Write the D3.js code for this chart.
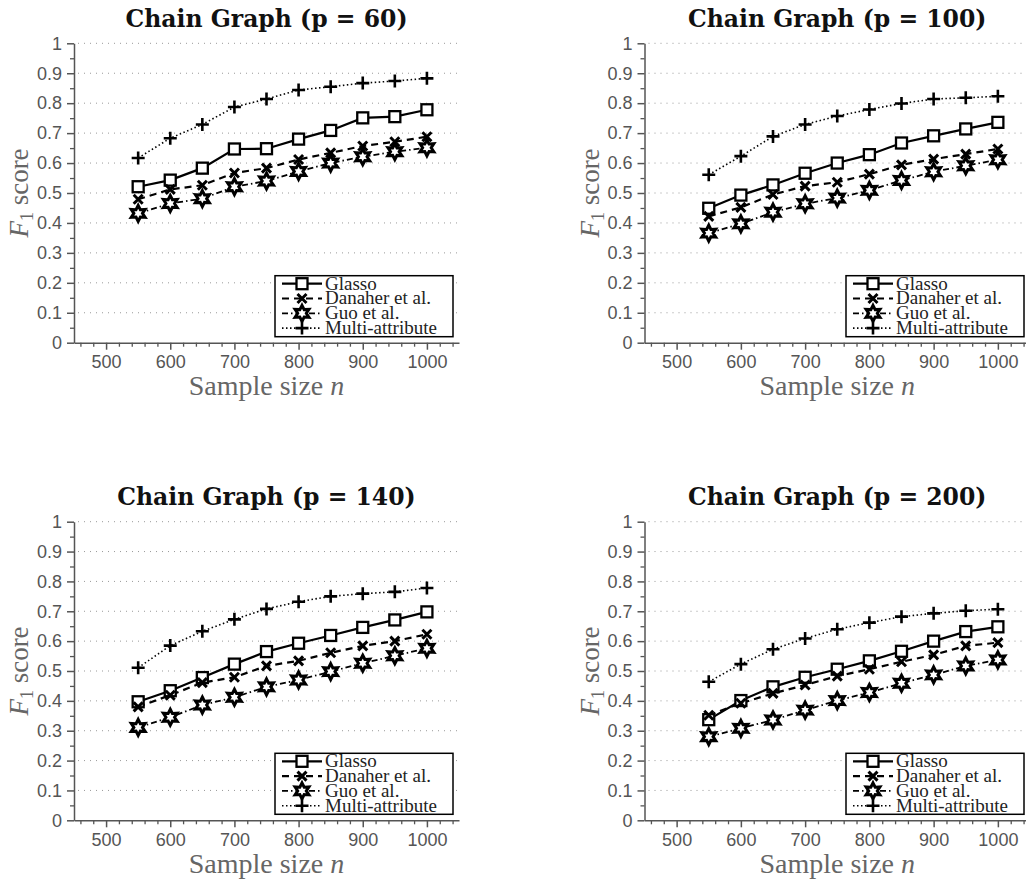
<!DOCTYPE html>
<html>
<head>
<meta charset="utf-8">
<script src="https://cdn.jsdelivr.net/npm/d3@7"></script>
<style>
  body { margin: 0; background: #fff; }
  svg { display: block; }
</style>
</head>
<body>
<div id="chart"></div>
<script>
// sample sizes on the x axis
const sampleSizes = [550, 600, 650, 700, 750, 800, 850, 900, 950, 1000];
const graphSizes = [60, 100, 140, 200];
const methodNames = ["Glasso", "Danaher et al.", "Guo et al.", "Multi-attribute"];
const yTickLabels = ["0", "0.1", "0.2", "0.3", "0.4", "0.5", "0.6", "0.7", "0.8", "0.9", "1"];
const xTickLabels = ["500", "600", "700", "800", "900", "1000"];

// F1 scores, p = 60
const glassoP60 = [0.521, 0.543, 0.583, 0.647, 0.648, 0.680, 0.709, 0.751, 0.755, 0.778];
const danaherP60 = [0.479, 0.512, 0.526, 0.567, 0.583, 0.612, 0.634, 0.657, 0.671, 0.688];
const guoP60 = [0.432, 0.465, 0.481, 0.521, 0.540, 0.572, 0.600, 0.621, 0.638, 0.651];
const multiP60 = [0.617, 0.683, 0.729, 0.787, 0.814, 0.844, 0.855, 0.867, 0.874, 0.883];

// p = 100
const glassoP100 = [0.449, 0.493, 0.527, 0.566, 0.600, 0.628, 0.667, 0.691, 0.714, 0.736];
const danaherP100 = [0.422, 0.452, 0.495, 0.523, 0.536, 0.563, 0.594, 0.613, 0.630, 0.647];
const guoP100 = [0.366, 0.397, 0.436, 0.464, 0.483, 0.509, 0.542, 0.571, 0.591, 0.611];
const multiP100 = [0.561, 0.623, 0.689, 0.729, 0.757, 0.779, 0.799, 0.814, 0.818, 0.823];

// p = 140
const glassoP140 = [0.397, 0.434, 0.478, 0.523, 0.565, 0.593, 0.619, 0.646, 0.671, 0.698];
const danaherP140 = [0.380, 0.419, 0.461, 0.479, 0.517, 0.534, 0.561, 0.584, 0.600, 0.623];
const guoP140 = [0.311, 0.345, 0.386, 0.412, 0.447, 0.470, 0.498, 0.526, 0.551, 0.576];
const multiP140 = [0.511, 0.585, 0.633, 0.673, 0.708, 0.732, 0.750, 0.759, 0.765, 0.778];

// p = 200
const glassoP200 = [0.337, 0.401, 0.447, 0.479, 0.506, 0.534, 0.566, 0.600, 0.632, 0.648];
const danaherP200 = [0.352, 0.392, 0.425, 0.453, 0.483, 0.506, 0.531, 0.554, 0.584, 0.595];
const guoP200 = [0.280, 0.308, 0.336, 0.369, 0.401, 0.428, 0.459, 0.487, 0.517, 0.537];
const multiP200 = [0.464, 0.523, 0.573, 0.609, 0.640, 0.662, 0.682, 0.693, 0.702, 0.707];

const seriesByPanel = [
  [glassoP60, danaherP60, guoP60, multiP60],
  [glassoP100, danaherP100, guoP100, multiP100],
  [glassoP140, danaherP140, guoP140, multiP140],
  [glassoP200, danaherP200, guoP200, multiP200]
];

// line styles + markers per method
const styles = [
  {dash: null, width: 2.2, marker: "square"},
  {dash: "7,5", width: 2.2, marker: "cross"},
  {dash: "6,3,1.5,3", width: 1.8, marker: "star"},
  {dash: "1.5,2.5", width: 1.6, marker: "plus"}
];

const W = 1026, H = 880;
const svg = d3.select("#chart").append("svg")
  .attr("width", W).attr("height", H);

// panel boxes: left, right, top, bottom of plot area
const boxes = [
  {x0: 74, x1: 459, y0: 43.3, y1: 342.7},
  {x0: 644.5, x1: 1030, y0: 43.3, y1: 342.7},
  {x0: 74, x1: 459, y0: 521.7, y1: 820.3},
  {x0: 644.5, x1: 1030, y0: 521.7, y1: 820.3}
];

const axisGrey = "#555";

function drawMarker(g, type, x, y) {
  if (type == "square") {
    g.append("rect").attr("x", x - 5.5).attr("y", y - 5.5).attr("width", 11).attr("height", 11)
      .attr("fill", "#fff").attr("stroke", "#000").attr("stroke-width", 2.3);
  } else if (type == "cross") {
    g.append("path").attr("d", `M${x-4.5},${y-4.5}L${x+4.5},${y+4.5}M${x-4.5},${y+4.5}L${x+4.5},${y-4.5}`)
      .attr("stroke", "#000").attr("stroke-width", 3).attr("fill", "none");
  } else if (type == "plus") {
    g.append("path").attr("d", `M${x-6.5},${y}L${x+6.5},${y}M${x},${y-6.5}L${x},${y+6.5}`)
      .attr("stroke", "#000").attr("stroke-width", 2.6).attr("fill", "none");
  } else if (type == "star") {
    let pts = [];
    for (let i = 0; i < 12; i++) {
      let r = i % 2 == 0 ? 8 : 4.3;
      let a = -Math.PI / 2 + i * Math.PI / 6;
      pts.push([x + r * Math.cos(a), y + r * Math.sin(a)]);
    }
    g.append("path").attr("d", "M" + pts.map(p => p.join(",")).join("L") + "Z")
      .attr("fill", "#fff").attr("stroke", "#000").attr("stroke-width", 3)
      .attr("stroke-linejoin", "miter");
  }
}

boxes.forEach((b, pi) => {
  const g = svg.append("g");

  const x = d3.scaleLinear().domain([450, 1050]).range([b.x0, b.x1]);
  const y = d3.scaleLinear().domain([0, 1]).range([b.y1, b.y0]);

  // dotted grid
  g.selectAll(".grid").data(d3.range(1, 11).map(d => d / 10)).enter()
    .append("line")
    .attr("x1", b.x0 + 4).attr("x2", b.x1)
    .attr("y1", d => y(d)).attr("y2", d => y(d))
    .attr("stroke", "#999").attr("stroke-width", 1)
    .attr("stroke-dasharray", "1,5");

  // y axis minor + major
  g.append("g").attr("transform", `translate(${b.x0},0)`)
    .call(d3.axisLeft(y).tickValues(d3.range(0, 10).map(d => d / 10 + 0.05)).tickSize(4).tickFormat("").tickSizeOuter(0))
    .call(a => a.select(".domain").remove())
    .selectAll("line").attr("stroke", axisGrey).attr("stroke-width", 1.3);

  const yAxis = g.append("g").attr("transform", `translate(${b.x0},0)`)
    .call(d3.axisLeft(y).tickValues(d3.range(0, 11).map(d => d / 10))
      .tickFormat((d, i) => yTickLabels[i]).tickSize(7).tickPadding(5).tickSizeOuter(0));
  yAxis.select(".domain").attr("stroke", axisGrey).attr("stroke-width", 1.5);
  yAxis.selectAll("line").attr("stroke", axisGrey).attr("stroke-width", 1.5);
  yAxis.selectAll("text").attr("fill", axisGrey)
    .style("font-family", "'Liberation Sans', Arial, sans-serif").style("font-size", "18px");

  // x axis minor + major
  g.append("g").attr("transform", `translate(0,${b.y1})`)
    .call(d3.axisBottom(x).tickValues(d3.range(460, 1050, 20).filter(d => d % 100 != 0)).tickSize(4).tickFormat("").tickSizeOuter(0))
    .call(a => a.select(".domain").remove())
    .selectAll("line").attr("stroke", axisGrey).attr("stroke-width", 1.3);

  const xAxis = g.append("g").attr("transform", `translate(0,${b.y1})`)
    .call(d3.axisBottom(x).tickValues(xTickLabels.map(Number))
      .tickFormat((d, i) => xTickLabels[i]).tickSize(7).tickPadding(6).tickSizeOuter(0));
  xAxis.select(".domain").attr("stroke", axisGrey).attr("stroke-width", 1.5);
  xAxis.selectAll("line").attr("stroke", axisGrey).attr("stroke-width", 1.5);
  xAxis.selectAll("text").attr("fill", axisGrey)
    .style("font-family", "'Liberation Sans', Arial, sans-serif").style("font-size", "18px");

  // series lines + markers
  seriesByPanel[pi].forEach((vals, si) => {
    const st = styles[si];
    const line = d3.line().x((d, i) => x(sampleSizes[i])).y(d => y(d));
    g.append("path").datum(vals)
      .attr("d", line)
      .attr("fill", "none").attr("stroke", "#000")
      .attr("stroke-width", st.width)
      .attr("stroke-dasharray", st.dash);
  });
  seriesByPanel[pi].forEach((vals, si) => {
    vals.forEach((v, i) => drawMarker(g, styles[si].marker, x(sampleSizes[i]), y(v)));
  });

  // title
  const midX = (b.x0 + b.x1) / 2;
  const title = g.append("text")
    .attr("x", midX).attr("y", b.y0 - 16.5)
    .attr("text-anchor", "middle")
    .style("font-family", "'DejaVu Serif', serif").style("font-weight", "bold").style("font-size", "23.5px")
    .attr("fill", "#111");
  title.append("tspan").text("Chain Graph (");
  title.append("tspan").text("p = " + graphSizes[pi]);
  title.append("tspan").text(")");

  // x label
  const xl = g.append("text")
    .attr("x", midX).attr("y", b.y1 + 52.5)
    .attr("text-anchor", "middle")
    .style("font-family", "'Liberation Serif', serif").style("font-size", "28px")
    .attr("fill", "#666");
  xl.append("tspan").text("Sample size ");
  xl.append("tspan").style("font-style", "italic").text("n");

  // y label
  const yl = g.append("text")
    .attr("transform", `translate(${b.x0 - 46},${(b.y0 + b.y1) / 2}) rotate(-90)`)
    .attr("text-anchor", "middle")
    .style("font-family", "'Liberation Serif', serif").style("font-size", "27px")
    .attr("fill", "#666");
  yl.append("tspan").style("font-style", "italic").text("F");
  yl.append("tspan").attr("dy", 5).style("font-size", "18px").text("1");
  yl.append("tspan").attr("dy", -5).text(" score");

  // legend
  const lg = g.append("g").attr("transform", `translate(${b.x1 - 184},${b.y1 - 67})`);
  lg.append("rect").attr("x", 0).attr("y", 0).attr("width", 178).attr("height", 61)
    .attr("fill", "#fff").attr("stroke", "#000").attr("stroke-width", 1.5);
  methodNames.forEach((name, si) => {
    const st = styles[si];
    const ry = 8 + si * 14.8;
    lg.append("line").attr("x1", 7).attr("x2", 47).attr("y1", ry).attr("y2", ry)
      .attr("stroke", "#000").attr("stroke-width", st.width)
      .attr("stroke-dasharray", st.dash);
    drawMarker(lg, st.marker, 27, ry);
    lg.append("text").attr("x", 50).attr("y", ry + 6)
      .style("font-family", "'Liberation Serif', serif").style("font-size", "19px")
      .attr("fill", "#222").text(name);
  });
});
</script>
</body>
</html>
